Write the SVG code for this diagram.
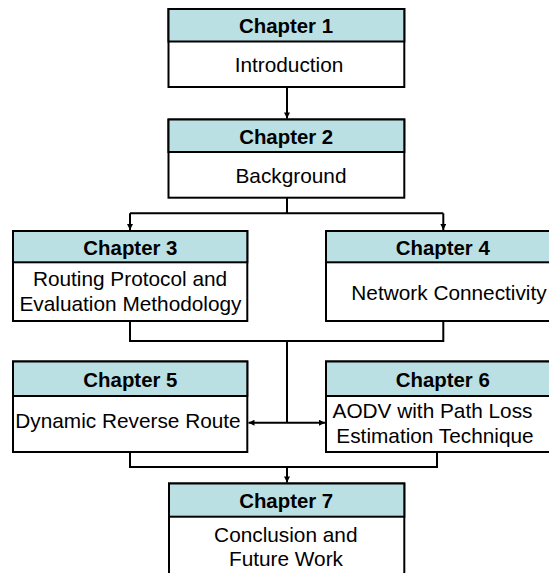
<svg xmlns="http://www.w3.org/2000/svg" width="549" height="573" viewBox="0 0 549 573">
<style>
.box{fill:#ffffff;stroke:#000;stroke-width:2}
.hdr{fill:#bbe0e3;stroke:#000;stroke-width:2}
.t{font-family:"Liberation Sans",Arial,sans-serif;font-size:20.8px;fill:#000;text-anchor:middle}
.b{font-weight:bold;font-size:20.4px}
.c{fill:none;stroke:#000;stroke-width:2}
</style>
<defs>
<marker id="ah" viewBox="0 0 10 10" refX="10" refY="5" markerWidth="7" markerHeight="6" markerUnits="userSpaceOnUse" orient="auto-start-reverse">
<path d="M0,0 L10,5 L0,10 z" fill="#000"/>
</marker>
</defs>
<rect width="549" height="573" fill="#fff"/>
<g id="connectors">
<path class="c" d="M287,88 V118.5" marker-end="url(#ah)"/>
<path class="c" d="M287,198 V213.3 M130,213.3 H443.3"/>
<path class="c" d="M130,213.3 V230" marker-end="url(#ah)"/>
<path class="c" d="M443.3,213.3 V230" marker-end="url(#ah)"/>
<path class="c" d="M130,321 V341 H443.3 V321 M287,341 V422.7"/>
<path class="c" d="M248.5,422.7 H325" marker-start="url(#ah)" marker-end="url(#ah)"/>
<path class="c" d="M130,452 V467 H437 V452"/>
<path class="c" d="M287,467 V482.5" marker-end="url(#ah)"/>
</g>
<g id="ch1">
<rect class="box" x="168.5" y="9" width="235.8" height="78"/>
<rect class="hdr" x="168.5" y="9" width="235.8" height="32.5"/>
<text class="t b" x="286" y="33.3">Chapter 1</text>
<text class="t" x="289" y="72.3">Introduction</text>
</g>
<g id="ch2">
<rect class="box" x="168.5" y="119.5" width="235.8" height="78.2"/>
<rect class="hdr" x="168.5" y="119.5" width="235.8" height="32.5"/>
<text class="t b" x="286.2" y="144">Chapter 2</text>
<text class="t" x="291" y="183">Background</text>
</g>
<g id="ch3">
<rect class="box" x="13" y="231" width="234.3" height="90"/>
<rect class="hdr" x="13" y="231" width="234.3" height="31.3"/>
<text class="t b" x="130.4" y="254.5">Chapter 3</text>
<text class="t" x="130" y="286">Routing Protocol and</text>
<text class="t" x="130.5" y="310.7">Evaluation Methodology</text>
</g>
<g id="ch4">
<rect class="box" x="326" y="231" width="244" height="90"/>
<rect class="hdr" x="326" y="231" width="244" height="31.3"/>
<text class="t b" x="442.8" y="254.5">Chapter 4</text>
<text class="t" x="449" y="300.3">Network Connectivity</text>
</g>
<g id="ch5">
<rect class="box" x="13" y="361.5" width="234.3" height="90.5"/>
<rect class="hdr" x="13" y="361.5" width="234.3" height="34.5"/>
<text class="t b" x="130.4" y="386.7">Chapter 5</text>
<text class="t" x="128" y="427.5">Dynamic Reverse Route</text>
</g>
<g id="ch6">
<rect class="box" x="326" y="361.5" width="244" height="90.5"/>
<rect class="hdr" x="326" y="361.5" width="244" height="34.5"/>
<text class="t b" x="442.8" y="386.7">Chapter 6</text>
<text class="t" x="432.5" y="418">AODV with Path Loss</text>
<text class="t" x="435" y="443">Estimation Technique</text>
</g>
<g id="ch7">
<rect class="box" x="169" y="483.5" width="235.3" height="110"/>
<rect class="hdr" x="169" y="483.5" width="235.3" height="33.2"/>
<text class="t b" x="286.2" y="507.7">Chapter 7</text>
<text class="t" x="285.8" y="542.3">Conclusion and</text>
<text class="t" x="286" y="566">Future Work</text>
</g>
</svg>
